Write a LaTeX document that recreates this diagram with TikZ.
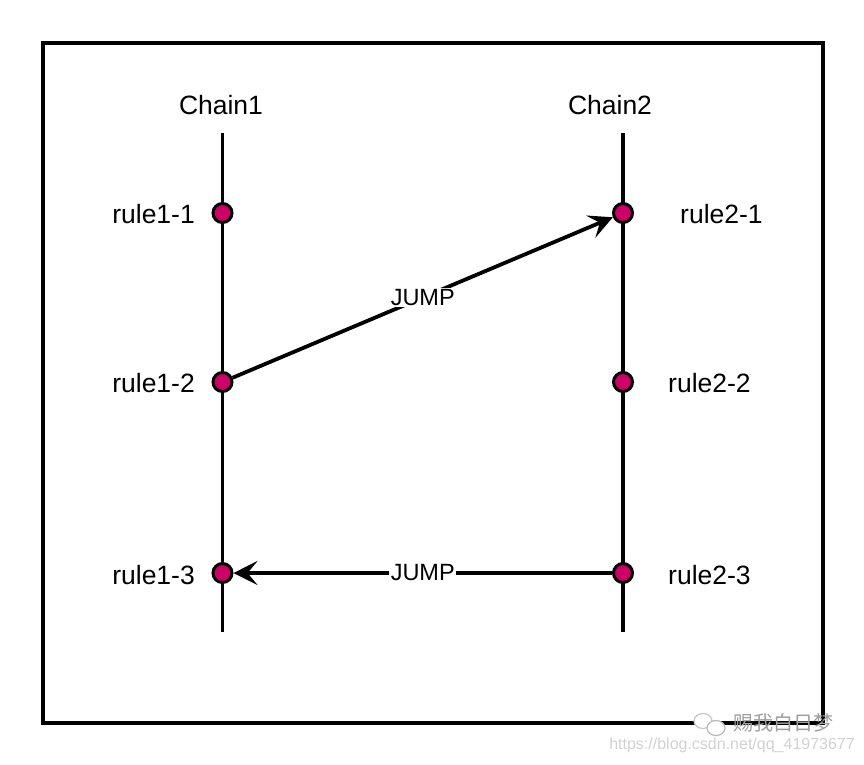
\documentclass[tikz,border=0pt]{standalone}
\usepackage{fontspec}
\setmainfont{Liberation Sans}
\newfontfamily\cjk{Noto Sans CJK SC}
\usetikzlibrary{arrows.meta}
\definecolor{dotfill}{RGB}{204,0,102}
\begin{document}
\begin{tikzpicture}[x=1pt,y=-1pt,
  dot/.style={circle,draw=black,line width=3pt,fill=dotfill,minimum size=19pt,inner sep=0pt},
  lbl/.style={font=\fontsize{26.5}{30}\selectfont,inner sep=0pt},
  chainline/.style={line width=3.8pt},
  jump/.style={line width=3.8pt,-{Stealth[length=24pt,width=24pt,inset=10pt]}},
  jlbl/.style={font=\fontsize{23.5}{26}\selectfont,fill=white,inner sep=1.5pt},
  wmark/.style={inner sep=0pt}]
\useasboundingbox (0,0) rectangle (864,764);
\fill[white] (0,0) rectangle (864,764);
\draw[line width=4pt] (42.5,43) rectangle (823,722.5);
% chains
\coordinate (c1top) at (222.5,133);
\coordinate (c1bot) at (222.5,632);
\coordinate (c2top) at (623,133);
\coordinate (c2bot) at (623,632);
\draw[chainline] (c1top) -- (c1bot);
\draw[chainline] (c2top) -- (c2bot);
\node[lbl] (chain1) at (221,105) {Chain1};
\node[lbl] (chain2) at (610,105) {Chain2};
% rules
\node[dot] (r11) at (222.5,213) {};
\node[dot] (r12) at (222.5,382) {};
\node[dot] (r13) at (222.5,573) {};
\node[dot] (r21) at (623,213) {};
\node[dot] (r22) at (623,382) {};
\node[dot] (r23) at (623,573) {};
\node[lbl,anchor=east] (l11) at (195,214) {rule1-1};
\node[lbl,anchor=east] (l12) at (195,383) {rule1-2};
\node[lbl,anchor=east] (l13) at (195,575) {rule1-3};
\node[lbl,anchor=west] (l21) at (680,214) {rule2-1};
\node[lbl,anchor=west] (l22) at (668,383) {rule2-2};
\node[lbl,anchor=west] (l23) at (668,575) {rule2-3};
% jumps
\draw[jump] (r12) -- node[jlbl] (j1) {JUMP} (r21);
\draw[jump] (r23) -- node[jlbl] (j2) {JUMP} (r13);
% watermark
\draw[gray!45,line width=1.2pt,fill=white] (703,721) ellipse (9pt and 7.5pt);
\draw[gray!55,line width=1.2pt,fill=white] (716,728) ellipse (9pt and 7.5pt);
\node[wmark,text=gray!75,font=\cjk\fontsize{20}{22}\selectfont,anchor=west] (wm) at (733,723) {赐我白日梦};
\node[wmark,text=gray!35,font=\fontsize{16}{18}\selectfont,anchor=east] (url) at (855,745) {https://blog.csdn.net/qq\_41973677};
\end{tikzpicture}
\end{document}
